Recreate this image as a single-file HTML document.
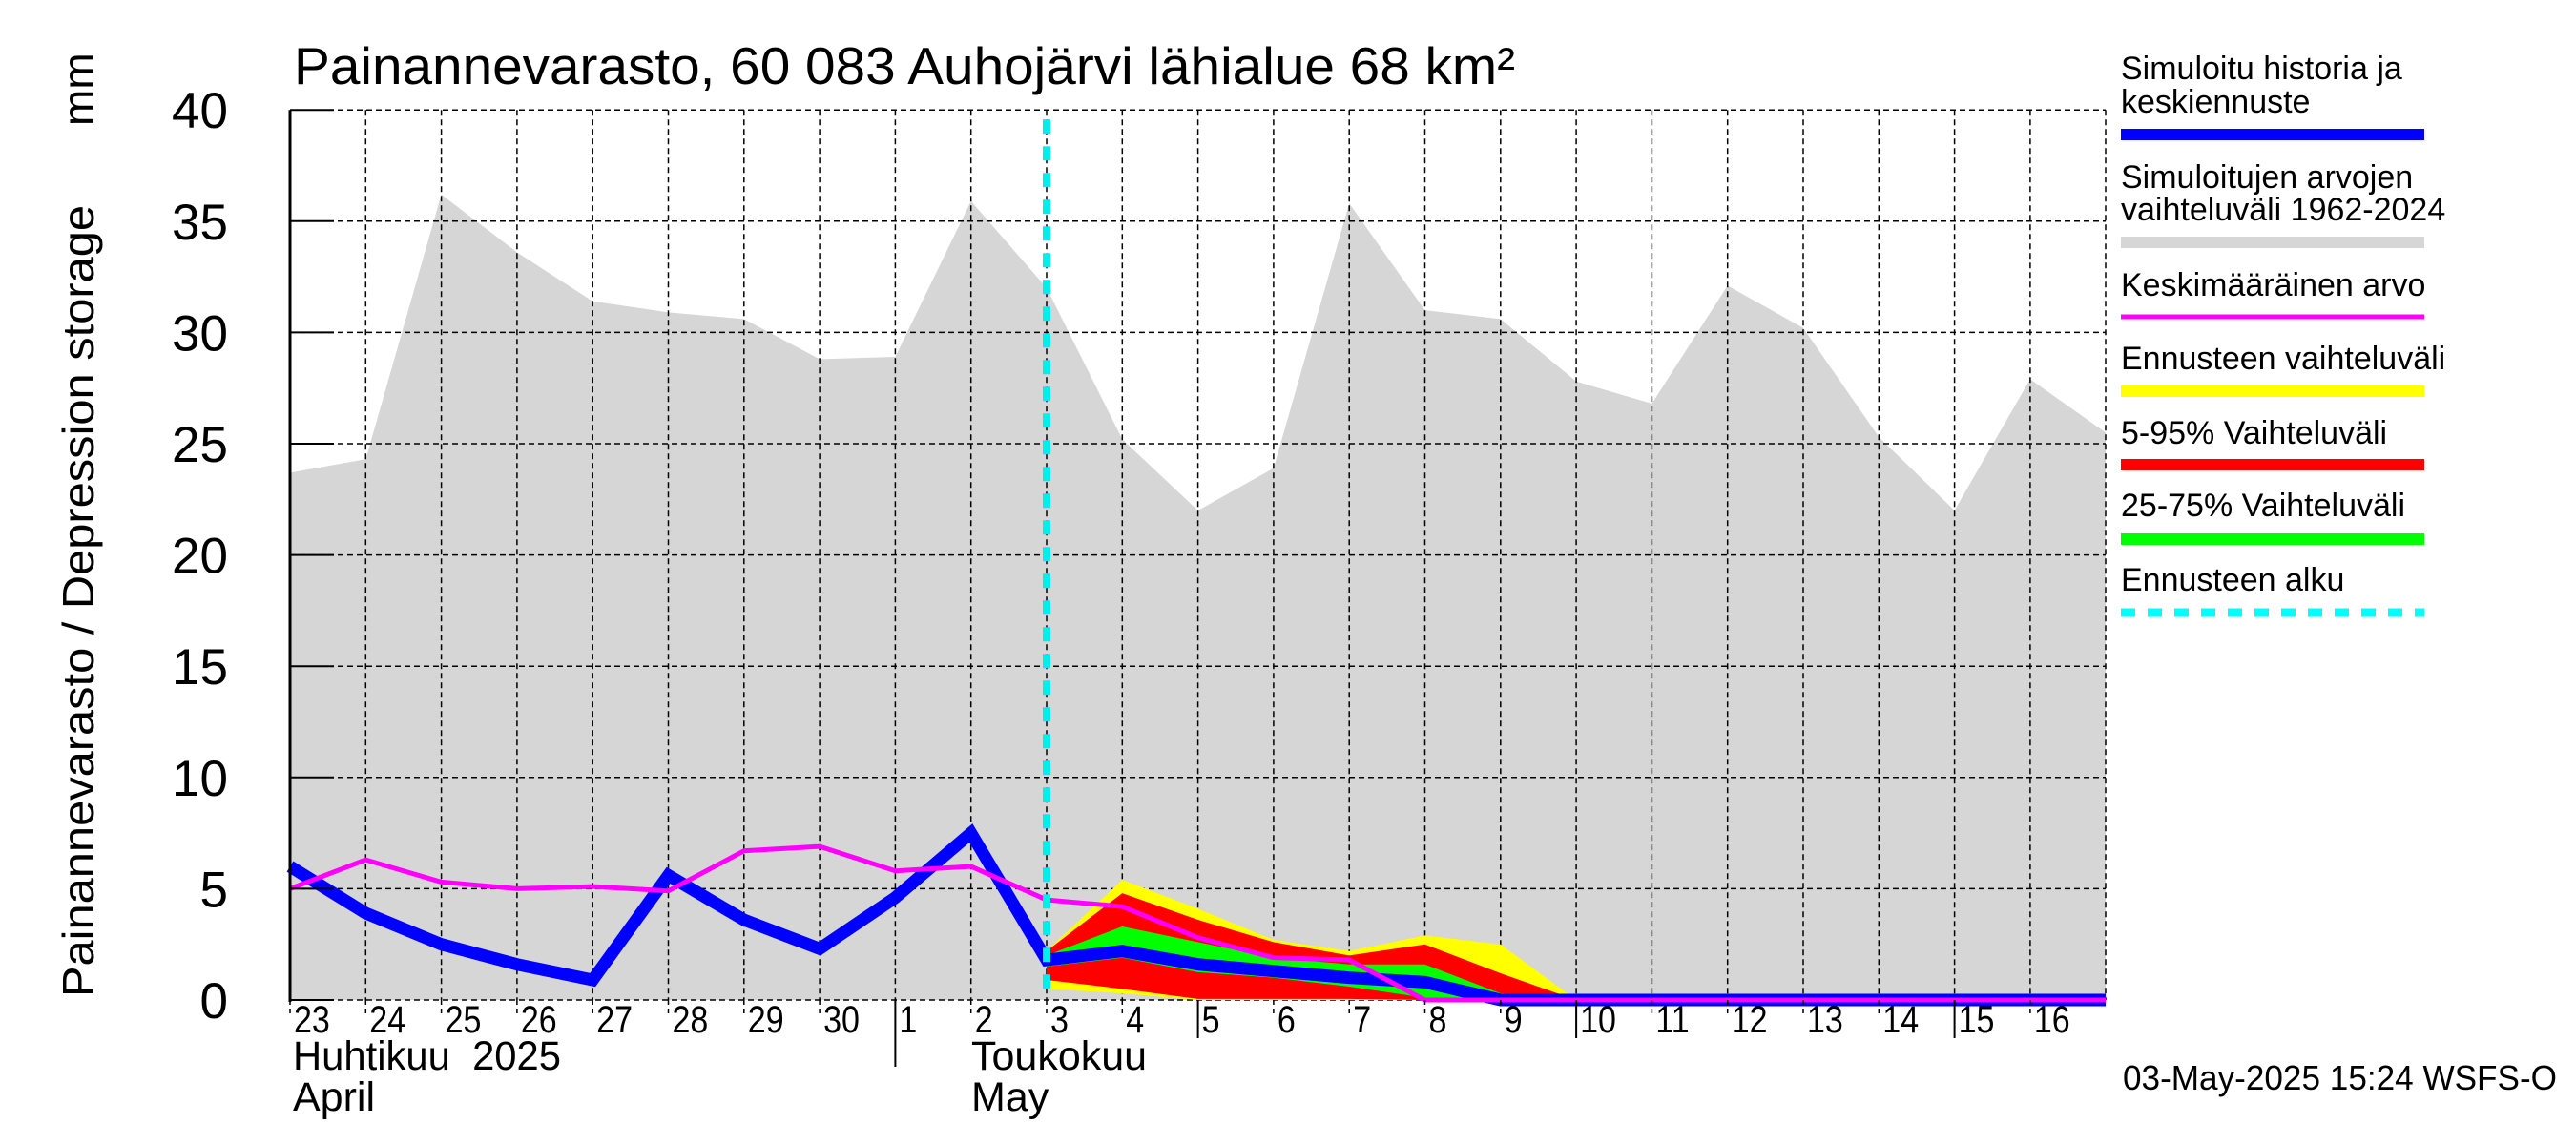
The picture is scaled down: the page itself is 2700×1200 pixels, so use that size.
<!DOCTYPE html>
<html><head><meta charset="utf-8"><style>
body{margin:0;background:#fff}
svg{display:block;font-family:"Liberation Sans",sans-serif}
</style></head><body>
<svg id="chart" width="2700" height="1200" viewBox="0 0 2700 1200" xmlns="http://www.w3.org/2000/svg">
<g id="plot"></g>
<g id="axes"></g>
<text x="308" y="88" font-size="55" textLength="1280" lengthAdjust="spacingAndGlyphs">Painannevarasto, 60 083 Auhojärvi lähialue 68 km²</text>
<text transform="translate(98,1045) rotate(-90)" font-size="46" textLength="830" lengthAdjust="spacingAndGlyphs">Painannevarasto / Depression storage</text>
<text transform="translate(98,132) rotate(-90)" font-size="46">mm</text>
<text x="307" y="1121" font-size="43" textLength="281" lengthAdjust="spacingAndGlyphs" xml:space="preserve" style="white-space:pre">Huhtikuu  2025</text>
<text x="307" y="1164" font-size="43">April</text>
<text x="1018" y="1121" font-size="43">Toukokuu</text>
<text x="1018" y="1164" font-size="43">May</text>
<text x="2225" y="1142" font-size="36" textLength="455" lengthAdjust="spacingAndGlyphs">03-May-2025 15:24 WSFS-O</text>
<g id="legend"></g>
</svg>
<script>
const dayLabels=["23","24","25","26","27","28","29","30","1","2","3","4","5","6","7","8","9","10","11","12","13","14","15","16"];
const yTicks=[0,5,10,15,20,25,30,35,40];
const histMax=[23.7,24.3,36.2,33.6,31.4,30.9,30.6,28.8,28.9,35.9,32.0,25.2,22.0,23.9,35.8,31.0,30.6,27.8,26.8,32.1,30.2,25.3,22.0,27.9,25.5];
const histMin=[0,0,0,0,0,0,0,0,0,0,0,0,0,0,0,0,0,0,0,0,0,0,0,0,0];
const simBlue=[6.0,3.9,2.5,1.6,0.9,5.6,3.6,2.3,4.6,7.5,1.8,2.2,1.6,1.3,1.0,0.8,0,0,0,0,0,0,0,0,0];
const meanVals=[5.0,6.3,5.3,5.0,5.1,4.9,6.7,6.9,5.8,6.0,4.5,4.2,2.8,1.9,1.8,0,0,0,0,0,0,0,0,0,0];
const fcStart=10;
const yelTop=[2.2,5.4,4.1,2.7,2.2,2.9,2.5,0];
const yelBot=[0.5,0.3,0,0,0,0,0,0];
const redTop=[2.2,4.8,3.6,2.6,2.0,2.5,1.2,0];
const redBot=[0.9,0.5,0.05,0.05,0.05,0,0,0];
const grnTop=[2.0,3.3,2.6,1.9,1.6,1.6,0.3,0];
const grnBot=[1.5,1.9,1.25,1.0,0.6,0.1,0,0];
const fcStartIdx=10;

const X0=304,DX=79.3,Y0=1048,YS=23.32,XR=2207;
const xs=i=>X0+i*DX, ys=v=>Y0-v*YS;
const NS="http://www.w3.org/2000/svg";
function mk(tag,attrs,parent){const e=document.createElementNS(NS,tag);for(const k in attrs)e.setAttribute(k,attrs[k]);parent.appendChild(e);return e;}
const plot=document.getElementById('plot'),axes=document.getElementById('axes'),leg=document.getElementById('legend');
function clipX(i){return Math.min(xs(i),XR);}
function band(top,bot,off,color,name){
  let pts=[];top.forEach((v,i)=>pts.push(clipX(i+off)+','+ys(v)));
  for(let i=bot.length-1;i>=0;i--)pts.push(clipX(i+off)+','+ys(bot[i]));
  const p=mk('polygon',{points:pts.join(' '),fill:color},plot);
  
  
}
band(histMax,histMin,0,'#d6d6d6','historical-range-area');
yTicks.forEach(t=>{const l=mk('line',{x1:X0,x2:XR,y1:ys(t),y2:ys(t),stroke:'#000','stroke-width':1.5,'stroke-dasharray':'6,4'},plot);
 
 });
for(let i=1;i<=24;i++){const l=mk('line',{x1:clipX(i),x2:clipX(i),y1:ys(40),y2:Y0,stroke:'#000','stroke-width':1.5,'stroke-dasharray':'6,4'},plot);
 
 }
band(yelTop,yelBot,fcStart,'#ffff00','forecast-range-band');
band(redTop,redBot,fcStart,'#ff0000','band-5-95');
band(grnTop,grnBot,fcStart,'#00ff00','band-25-75');
function line(vals,color,w,name){
  const pts=vals.map((v,i)=>clipX(i)+','+ys(v)).join(' ');
  const p=mk('polyline',{points:pts,fill:'none',stroke:color,'stroke-width':w,'stroke-linejoin':'miter'},plot);
  
  
}
line(simBlue,'#0000ff',13,'simulated-history-line');
line(meanVals,'#ff00ff',5,'mean-value-line');
const cy=mk('line',{x1:xs(fcStartIdx),x2:xs(fcStartIdx),y1:ys(40)+10,y2:Y0,stroke:'#00eeee','stroke-width':8,'stroke-dasharray':'15,13'},plot);


mk('line',{x1:X0,x2:X0,y1:ys(40),y2:Y0+2,stroke:'#000','stroke-width':3},axes);
yTicks.forEach(t=>{mk('line',{x1:X0,x2:X0+46,y1:ys(t),y2:ys(t),stroke:'#000','stroke-width':2},axes);
 const tx=mk('text',{x:X0-65,y:ys(t)+19,'font-size':53,'text-anchor':'end'},axes);tx.textContent=t;
 
 });
dayLabels.forEach((d,i)=>{
 const major=d=="1"||["5","10","15"].includes(d);
 mk('line',{x1:xs(i),x2:xs(i),y1:Y0,y2:Y0+(d=="1"?70:(major?40:14)),stroke:'#000','stroke-width':major?2:1.5,'stroke-dasharray':major?'none':'5,4'},axes);
 const lx=xs(i)+4;
 const tx=mk('text',{x:0,y:1082,'font-size':40,transform:`translate(${lx},0) scale(0.85,1)`},axes);
 tx.textContent=d;
 
 
});
const L=[
 {t:["Simuloitu historia ja","keskiennuste"],by:[83,118],ly:141,c:'#0000ff',w:12},
 {t:["Simuloitujen arvojen","vaihteluväli 1962-2024"],by:[197,231],ly:254,c:'#d6d6d6',w:12},
 {t:["Keskimääräinen arvo"],by:[310],ly:332,c:'#ff00ff',w:5},
 {t:["Ennusteen vaihteluväli"],by:[387],ly:410,c:'#ffff00',w:12},
 {t:["5-95% Vaihteluväli"],by:[465],ly:487,c:'#ff0000',w:12},
 {t:["25-75% Vaihteluväli"],by:[541],ly:565,c:'#00ff00',w:12},
 {t:["Ennusteen alku"],by:[619],ly:642,c:'#00ffff',w:9,d:'15,13'}];
L.forEach(e=>{
 const g=mk('g',{},leg);
 
 
 e.t.forEach((s,k)=>{const tx=mk('text',{x:2223,y:e.by[k],'font-size':34},g);tx.textContent=s;});
 const a={x1:2223,x2:2541,y1:e.ly,y2:e.ly,stroke:e.c,'stroke-width':e.w};if(e.d)a['stroke-dasharray']=e.d;
 mk('line',a,g);
});
</script>
</body></html>
